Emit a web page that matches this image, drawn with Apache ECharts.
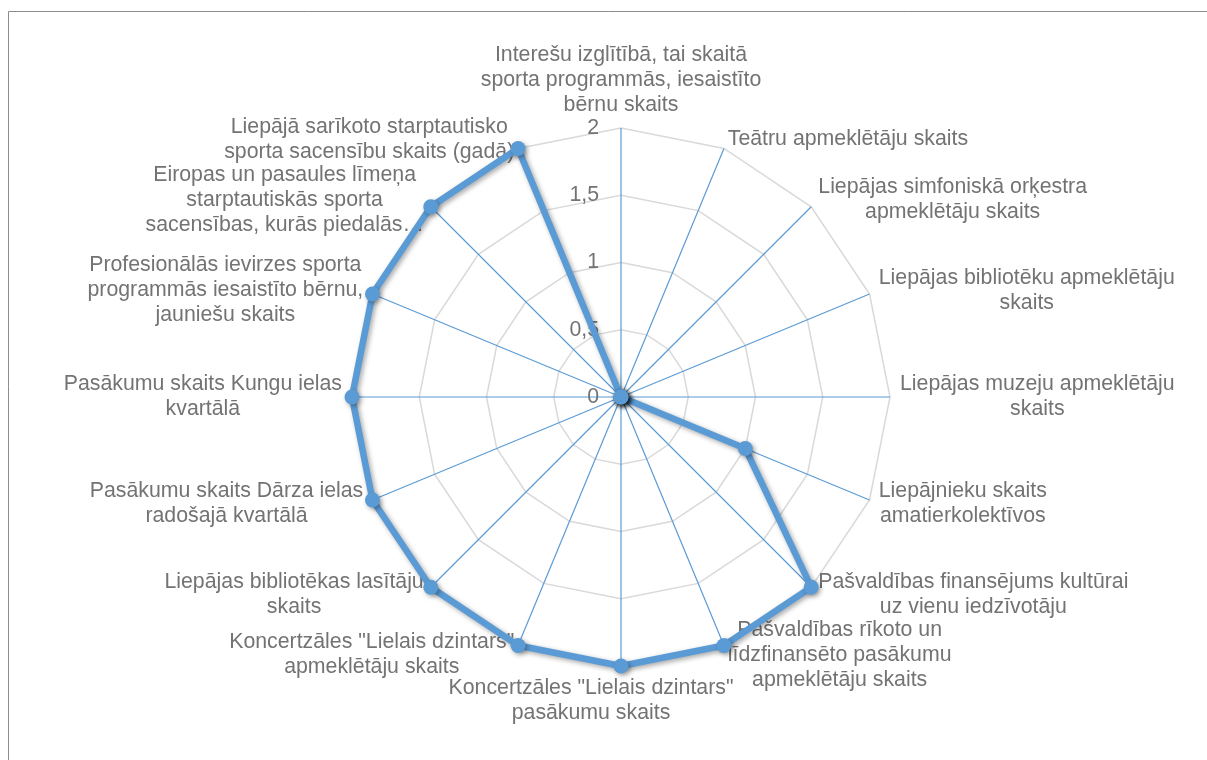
<!DOCTYPE html>
<html>
<head>
<meta charset="utf-8">
<script src="https://cdn.jsdelivr.net/npm/echarts@6/dist/echarts.min.js"></script>
<style>
  html, body { margin: 0; padding: 0; background: #fff; }
  #chart { width: 1207px; height: 760px; }
</style>
</head>
<body>
<div id="chart"></div>
<script>
// indicator names in Excel order (clockwise from the top)
const indicatorNames = [
  'Interešu izglītībā, tai skaitā\nsporta programmās, iesaistīto\nbērnu skaits',
  'Teātru apmeklētāju skaits',
  'Liepājas simfoniskā orķestra\napmeklētāju skaits',
  'Liepājas bibliotēku apmeklētāju\nskaits',
  'Liepājas muzeju apmeklētāju\nskaits',
  'Liepājnieku skaits\namatierkolektīvos',
  'Pašvaldības finansējums kultūrai\nuz vienu iedzīvotāju',
  'Pašvaldības rīkoto un\nlīdzfinansēto pasākumu\napmeklētāju skaits',
  'Koncertzāles "Lielais dzintars"\npasākumu skaits',
  'Koncertzāles "Lielais dzintars"\napmeklētāju skaits',
  'Liepājas bibliotēkas lasītāju\nskaits',
  'Pasākumu skaits Dārza ielas\nradošajā kvartālā',
  'Pasākumu skaits Kungu ielas\nkvartālā',
  'Profesionālās ievirzes sporta\nprogrammās iesaistīto bērnu,\njauniešu skaits',
  'Eiropas un pasaules līmeņa\nstarptautiskās sporta\nsacensības, kurās piedalās…',
  'Liepājā sarīkoto starptautisko\nsporta sacensību skaits (gadā)'
]
const values = [0, 0, 0, 0, 0, 1, 2, 2, 2, 2, 2, 2, 2, 2, 2, 2]
const axisMin = 0
const axisMax = 2
const axisStep = 0.5

const TEXT = '#737373'
const BLUE = '#5b9bd5'
const FONT = "'Liberation Sans', Arial, sans-serif"
const CENTER = [621, 397]
const RADIUS = 269

// echarts radar runs counter-clockwise, Excel clockwise -> reorder
const order = [0]
for (let i = indicatorNames.length - 1; i > 0; i--) order.push(i)
const bottomName = indicatorNames[order[order.length / 2]]

const chart = echarts.init(document.getElementById('chart'))
chart.setOption({
  animation: false,
  backgroundColor: '#fff',
  graphic: [{
    type: 'rect',
    silent: true,
    shape: { x: 8.5, y: 11.5, width: 1400, height: 900 },
    style: { fill: 'none', stroke: '#8c8c8c', lineWidth: 1 }
  }],
  // polar on top of the radar grid: spokes (angle split lines) + value labels
  polar: { center: CENTER, radius: RADIUS },
  angleAxis: {
    type: 'value',
    z: 1,
    min: 0,
    max: 360,
    interval: 360 / indicatorNames.length,
    startAngle: 90,
    axisLine: { show: false },
    axisTick: { show: false },
    axisLabel: { show: false },
    splitLine: { show: true, lineStyle: { color: BLUE, width: 1.2 } }
  },
  radiusAxis: {
    z: 1,
    min: axisMin,
    max: axisMax,
    interval: axisStep,
    axisLine: { show: false },
    axisTick: { show: false },
    splitLine: { show: false },
    splitArea: { show: false },
    axisLabel: {
      margin: 22,
      color: TEXT,
      fontSize: 21.3,
      fontFamily: FONT,
      formatter: v => String(v).replace('.', ',')
    }
  },
  radar: {
    z: 0,
    center: CENTER,
    radius: RADIUS,
    startAngle: 90,
    splitNumber: 4,
    shape: 'polygon',
    nameGap: 10,
    axisName: {
      color: TEXT,
      fontSize: 21.3,
      fontFamily: FONT,
      lineHeight: 25,
      formatter: (name) => {
        const key = name === bottomName ? 'b' : 'c'
        return name.split('\n').map(l => '{' + key + '|' + l + '}').join('\n')
      },
      rich: {
        c: { align: 'center', color: TEXT, fontSize: 21.3, fontFamily: FONT, lineHeight: 25 },
        b: { align: 'center', color: TEXT, fontSize: 21.3, fontFamily: FONT, lineHeight: 25, padding: [0, 60, 0, 0] }
      }
    },
    axisLine: { show: false },
    axisTick: { show: false },
    axisLabel: { show: false },
    splitLine: { lineStyle: { color: '#d9d9d9', width: 1.5 } },
    splitArea: { show: false },
    indicator: order.map(i => ({ name: indicatorNames[i], min: axisMin, max: axisMax }))
  },
  series: [{
    type: 'radar',
    z: 3,
    symbol: 'circle',
    symbolSize: 15,
    data: [{ value: order.map(i => values[i]) }],
    lineStyle: {
      color: BLUE,
      width: 6.5,
      shadowColor: 'rgba(0,0,0,0.35)',
      shadowBlur: 5,
      shadowOffsetX: 2,
      shadowOffsetY: 2
    },
    itemStyle: {
      color: BLUE,
      shadowColor: 'rgba(0,0,0,0.35)',
      shadowBlur: 5,
      shadowOffsetX: 2,
      shadowOffsetY: 2
    }
  }]
})
</script>
</body>
</html>
